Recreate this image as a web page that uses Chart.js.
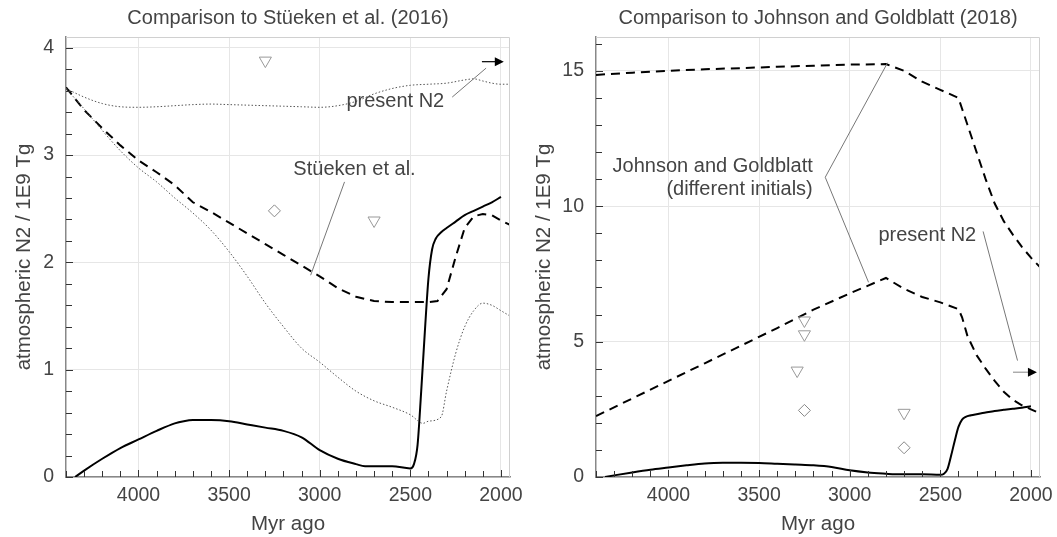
<!DOCTYPE html>
<html>
<head>
<meta charset="utf-8">
<script src="https://cdn.jsdelivr.net/npm/chart.js@4/dist/chart.umd.min.js"></script>
<style>
  html, body { margin: 0; padding: 0; background: #fff; }
  #wrap { position: relative; width: 1057px; height: 537px; }
  canvas { position: absolute; top: 0; }
  #c1 { left: 0; }
  #c2 { left: 520px; }
</style>
</head>
<body>
<div id="wrap">
  <canvas id="c1" width="532" height="537"></canvas>
  <canvas id="c2" width="537" height="537"></canvas>
</div>
<script>
// Atmospheric N2 (1E9 Tg) against age (Myr ago).

// model run (solid), same in both panels
const MODEL_YEARS = [4350, 4300, 4200, 4100, 4000, 3900, 3800, 3750, 3700, 3600, 3500, 3400, 3300, 3200, 3100, 3000, 2900, 2800, 2750, 2700, 2600, 2500, 2480, 2460, 2440, 2420, 2400, 2380, 2360, 2330, 2300, 2250, 2200, 2150, 2100, 2050, 2000];
const MODEL_N2 = [0, 0.06, 0.17, 0.27, 0.35, 0.43, 0.5, 0.52, 0.53, 0.53, 0.52, 0.49, 0.46, 0.43, 0.37, 0.25, 0.17, 0.12, 0.1, 0.1, 0.1, 0.08, 0.12, 0.3, 0.8, 1.35, 1.85, 2.12, 2.22, 2.28, 2.32, 2.38, 2.44, 2.48, 2.52, 2.56, 2.61];

// Stüeken et al. (2016), dashed
const STUEKEN_YEARS = [4400, 4300, 4200, 4100, 4000, 3900, 3800, 3700, 3600, 3500, 3400, 3300, 3200, 3100, 3000, 2900, 2800, 2700, 2600, 2500, 2400, 2350, 2300, 2250, 2200, 2150, 2100, 2050, 2000, 1950];
const STUEKEN_N2 = [3.63, 3.42, 3.25, 3.09, 2.95, 2.84, 2.72, 2.56, 2.47, 2.37, 2.27, 2.17, 2.07, 1.97, 1.87, 1.76, 1.68, 1.64, 1.63, 1.63, 1.63, 1.64, 1.75, 2.05, 2.32, 2.43, 2.45, 2.44, 2.39, 2.35];

// dotted envelopes
const UPPER_DOT_YEARS = [4400, 4300, 4200, 4100, 4000, 3900, 3800, 3700, 3600, 3500, 3400, 3300, 3200, 3100, 3000, 2900, 2800, 2700, 2600, 2500, 2400, 2300, 2200, 2150, 2100, 2050, 2000, 1950];
const UPPER_DOT_N2 = [3.62, 3.54, 3.48, 3.45, 3.445, 3.45, 3.46, 3.47, 3.475, 3.47, 3.465, 3.46, 3.455, 3.45, 3.445, 3.46, 3.5, 3.57, 3.62, 3.65, 3.66, 3.67, 3.7, 3.71, 3.69, 3.67, 3.66, 3.66];
const LOWER_DOT_YEARS = [4400, 4300, 4200, 4100, 4000, 3900, 3800, 3700, 3600, 3500, 3400, 3300, 3200, 3100, 3000, 2900, 2800, 2700, 2600, 2500, 2430, 2400, 2330, 2300, 2250, 2200, 2150, 2100, 2050, 2000, 1950];
const LOWER_DOT_N2 = [3.62, 3.43, 3.23, 3.04, 2.88, 2.75, 2.6, 2.46, 2.3, 2.1, 1.87, 1.62, 1.4, 1.2, 1.07, 0.93, 0.8, 0.71, 0.65, 0.58, 0.5, 0.52, 0.56, 0.8, 1.15, 1.4, 1.55, 1.62, 1.6, 1.55, 1.5];

// Johnson and Goldblatt (2018), two initial values, dashed
const JG_YEARS = [4400, 4200, 4000, 3800, 3600, 3400, 3200, 3000, 2800, 2700, 2600, 2500, 2400, 2380, 2350, 2300, 2250, 2200, 2150, 2100, 2050, 2000, 1950];
const JG_HIGH_N2 = [14.85, 14.93, 15.0, 15.06, 15.1, 15.15, 15.19, 15.23, 15.25, 15.0, 14.6, 14.3, 14.0, 13.6, 13.0, 12.0, 11.0, 10.1, 9.45, 8.95, 8.5, 8.1, 7.75];
const JG_LOW_N2 = [2.25, 2.9, 3.55, 4.2, 4.85, 5.5, 6.18, 6.78, 7.35, 6.95, 6.65, 6.45, 6.2, 5.9, 5.2, 4.5, 4.0, 3.55, 3.15, 2.85, 2.65, 2.5, 2.35];

// proxy estimates
const LEFT_TRI_YEARS = [3300, 2700];
const LEFT_TRI_N2 = [3.88, 2.39];
const LEFT_DIA_YEARS = [3250];
const LEFT_DIA_N2 = [2.48];
const RIGHT_TRI_YEARS = [3250, 3250, 3290, 2700];
const RIGHT_TRI_N2 = [5.78, 5.27, 3.93, 2.37];
const RIGHT_DIA_YEARS = [3250, 2700];
const RIGHT_DIA_N2 = [2.46, 1.08];

const PRESENT_N2 = 3.87;

const X_RANGE = [1950, 4400];
const LEFT_Y_MAX = 4.1;
const RIGHT_Y_MAX = 16.25;

const FONT = "'Liberation Sans', Arial, sans-serif";
Chart.defaults.font.family = FONT;
Chart.defaults.font.size = 19.5;
Chart.defaults.color = "#444";

const pts = (xs, ys) => xs.map((x, i) => ({ x, y: ys[i] }));
const near = (v, step) => Math.abs(v / step - Math.round(v / step)) < 1e-6;

// tick spacing per panel: minor marks and labelled majors
const TICKS = {
  c1: { x: 100, xMajor: 500, y: 0.2, yMajor: 1 },
  c2: { x: 100, xMajor: 500, y: 1, yMajor: 5 }
};

// labels and pointer lines, in data units
const NOTES = {
  c1: {
    texts: [
      { x: 2808, y: 2.87, text: "Stüeken et al.", align: "center" },
      { x: 2313, y: 3.5, text: "present N2", align: "right" }
    ],
    lines: [
      [2863, 2.75, 3050, 1.88],
      [2269, 3.54, 2082, 3.81]
    ],
    arrows: [[2105, PRESENT_N2, 1984, PRESENT_N2, "#000"]]
  },
  c2: {
    texts: [
      { x: 3204, y: 11.48, text: "Johnson and Goldblatt", align: "right" },
      { x: 3204, y: 10.63, text: "(different initials)", align: "right" },
      { x: 2302, y: 8.93, text: "present N2", align: "right" }
    ],
    lines: [
      [3135, 11.07, 2791, 15.3],
      [3135, 11.07, 2896, 7.19],
      [2264, 9.07, 2074, 4.3]
    ],
    arrows: [[2099, PRESENT_N2, 1967, PRESENT_N2, "#999"]]
  }
};

const frame = {
  id: "frame",
  afterDraw(chart) {
    const { ctx, chartArea: a, scales: { x, y } } = chart;
    const m = TICKS[chart.canvas.id];
    ctx.save();
    ctx.strokeStyle = "#d0d0d0";
    ctx.lineWidth = 1;
    ctx.beginPath();
    ctx.moveTo(a.left, a.top + 0.5);
    ctx.lineTo(a.right - 0.5, a.top + 0.5);
    ctx.lineTo(a.right - 0.5, a.bottom);
    ctx.stroke();

    // inward tick marks on the bottom and left axes
    ctx.fillStyle = "#333";
    for (let v = Math.ceil(x.min / m.x) * m.x; v <= x.max; v += m.x) {
      const px = Math.round(x.getPixelForValue(v));
      const len = near(v, m.xMajor) ? 7 : 6;
      ctx.fillRect(px, a.bottom - len, 1, len);
    }
    for (let v = 0; v <= y.max + 1e-9; v += m.y) {
      const py = Math.round(y.getPixelForValue(v));
      const len = near(v, m.yMajor) ? 7 : 6;
      ctx.fillRect(a.left, py, len, 1);
    }

    const notes = NOTES[chart.canvas.id];
    ctx.strokeStyle = "#777";
    ctx.lineWidth = 1;
    for (const [x1, y1, x2, y2] of notes.lines) {
      ctx.beginPath();
      ctx.moveTo(x.getPixelForValue(x1), y.getPixelForValue(y1));
      ctx.lineTo(x.getPixelForValue(x2), y.getPixelForValue(y2));
      ctx.stroke();
    }
    for (const [x1, y1, x2, y2, c] of notes.arrows) {
      const p1 = [x.getPixelForValue(x1), y.getPixelForValue(y1)];
      const p2 = [x.getPixelForValue(x2), y.getPixelForValue(y2)];
      ctx.strokeStyle = c;
      ctx.lineWidth = 1.2;
      ctx.beginPath();
      ctx.moveTo(p1[0], p1[1]);
      ctx.lineTo(p2[0] - 8, p2[1]);
      ctx.stroke();
      ctx.fillStyle = "#000";
      ctx.beginPath();
      ctx.moveTo(p2[0], p2[1]);
      ctx.lineTo(p2[0] - 9, p2[1] - 4.5);
      ctx.lineTo(p2[0] - 9, p2[1] + 4.5);
      ctx.closePath();
      ctx.fill();
    }
    ctx.fillStyle = "#444";
    ctx.font = "20px " + FONT;
    ctx.textBaseline = "middle";
    for (const t of notes.texts) {
      ctx.textAlign = t.align;
      ctx.fillText(t.text, x.getPixelForValue(t.x), y.getPixelForValue(t.y));
    }
    ctx.restore();
  }
};

function solid(data) {
  return { data, borderColor: "#000", borderWidth: 2, pointRadius: 0, cubicInterpolationMode: "monotone" };
}
function dashed(data) {
  return { data, borderColor: "#000", borderWidth: 2, borderDash: [9, 6], pointRadius: 0, tension: 0 };
}
function dotted(data) {
  return { data, borderColor: "#555", borderWidth: 1, borderDash: [1.5, 2], pointRadius: 0, cubicInterpolationMode: "monotone" };
}
function markers(data, style) {
  return {
    data, showLine: false, pointStyle: style,
    pointRotation: style === "triangle" ? 180 : 0,
    pointRadius: style === "triangle" ? 7 : 6,
    pointBorderColor: style === "triangle" ? "#999" : "#888",
    pointBackgroundColor: "rgba(255,255,255,0)",
    pointBorderWidth: 1
  };
}

function panel(canvas, title, datasets, { yMax, yWidth, padRight }) {
  const m = TICKS[canvas.id];
  return new Chart(canvas, {
    type: "line",
    data: { datasets },
    options: {
      responsive: false,
      animation: false,
      events: [],
      layout: { padding: { left: 0, right: padRight, top: 0, bottom: 0 } },
      plugins: {
        legend: { display: false },
        tooltip: { enabled: false },
        title: {
          display: true, text: title, fullSize: false, color: "#444",
          font: { size: 20, weight: "normal" }, padding: { top: 6.5, bottom: 6.5 }
        }
      },
      scales: {
        x: {
          type: "linear", reverse: true, min: X_RANGE[0], max: X_RANGE[1],
          afterFit: s => { s.height = 60; s.paddingLeft = 0; s.paddingRight = 0; },
          border: { color: "#888", width: 1.5 },
          grid: {
            drawTicks: false,
            color: c => (near(c.tick.value, m.xMajor) ? "#e6e6e6" : "rgba(0,0,0,0)")
          },
          ticks: {
            stepSize: m.x, includeBounds: false, padding: 7, maxRotation: 0, autoSkip: false,
            callback: v => (near(v, m.xMajor) ? String(v) : "")
          },
          title: { display: true, text: "Myr ago", font: { size: 20.5 }, padding: { top: 4, bottom: 0 } }
        },
        y: {
          type: "linear", min: 0, max: yMax,
          afterFit: s => { s.width = yWidth; s.paddingTop = 0; s.paddingBottom = 0; },
          border: { color: "#888", width: 1.5 },
          grid: {
            drawTicks: false,
            color: c => (near(c.tick.value, m.yMajor) ? "#e6e6e6" : "rgba(0,0,0,0)")
          },
          ticks: {
            stepSize: m.y, includeBounds: false, padding: 12, autoSkip: false,
            callback: v => (near(v, m.yMajor) ? String(Math.round(v)) : "")
          },
          title: { display: true, text: "atmospheric N2 / 1E9 Tg", font: { size: 20.5 }, padding: { top: 12, bottom: 0 } }
        }
      }
    },
    plugins: [frame]
  });
}

panel(document.getElementById("c1"), "Comparison to Stüeken et al. (2016)", [
  markers(pts(LEFT_TRI_YEARS, LEFT_TRI_N2), "triangle"),
  markers(pts(LEFT_DIA_YEARS, LEFT_DIA_N2), "rectRot"),
  dotted(pts(UPPER_DOT_YEARS, UPPER_DOT_N2)),
  dotted(pts(LOWER_DOT_YEARS, LOWER_DOT_N2)),
  dashed(pts(STUEKEN_YEARS, STUEKEN_N2)),
  solid(pts(MODEL_YEARS, MODEL_N2))
], { yMax: LEFT_Y_MAX, yWidth: 66, padRight: 22 });

panel(document.getElementById("c2"), "Comparison to Johnson and Goldblatt (2018)", [
  markers(pts(RIGHT_TRI_YEARS, RIGHT_TRI_N2), "triangle"),
  markers(pts(RIGHT_DIA_YEARS, RIGHT_DIA_N2), "rectRot"),
  dashed(pts(JG_YEARS, JG_HIGH_N2)),
  dashed(pts(JG_YEARS, JG_LOW_N2)),
  solid(pts(MODEL_YEARS, MODEL_N2))
], { yMax: RIGHT_Y_MAX, yWidth: 76, padRight: 17 });
</script>
</body>
</html>
